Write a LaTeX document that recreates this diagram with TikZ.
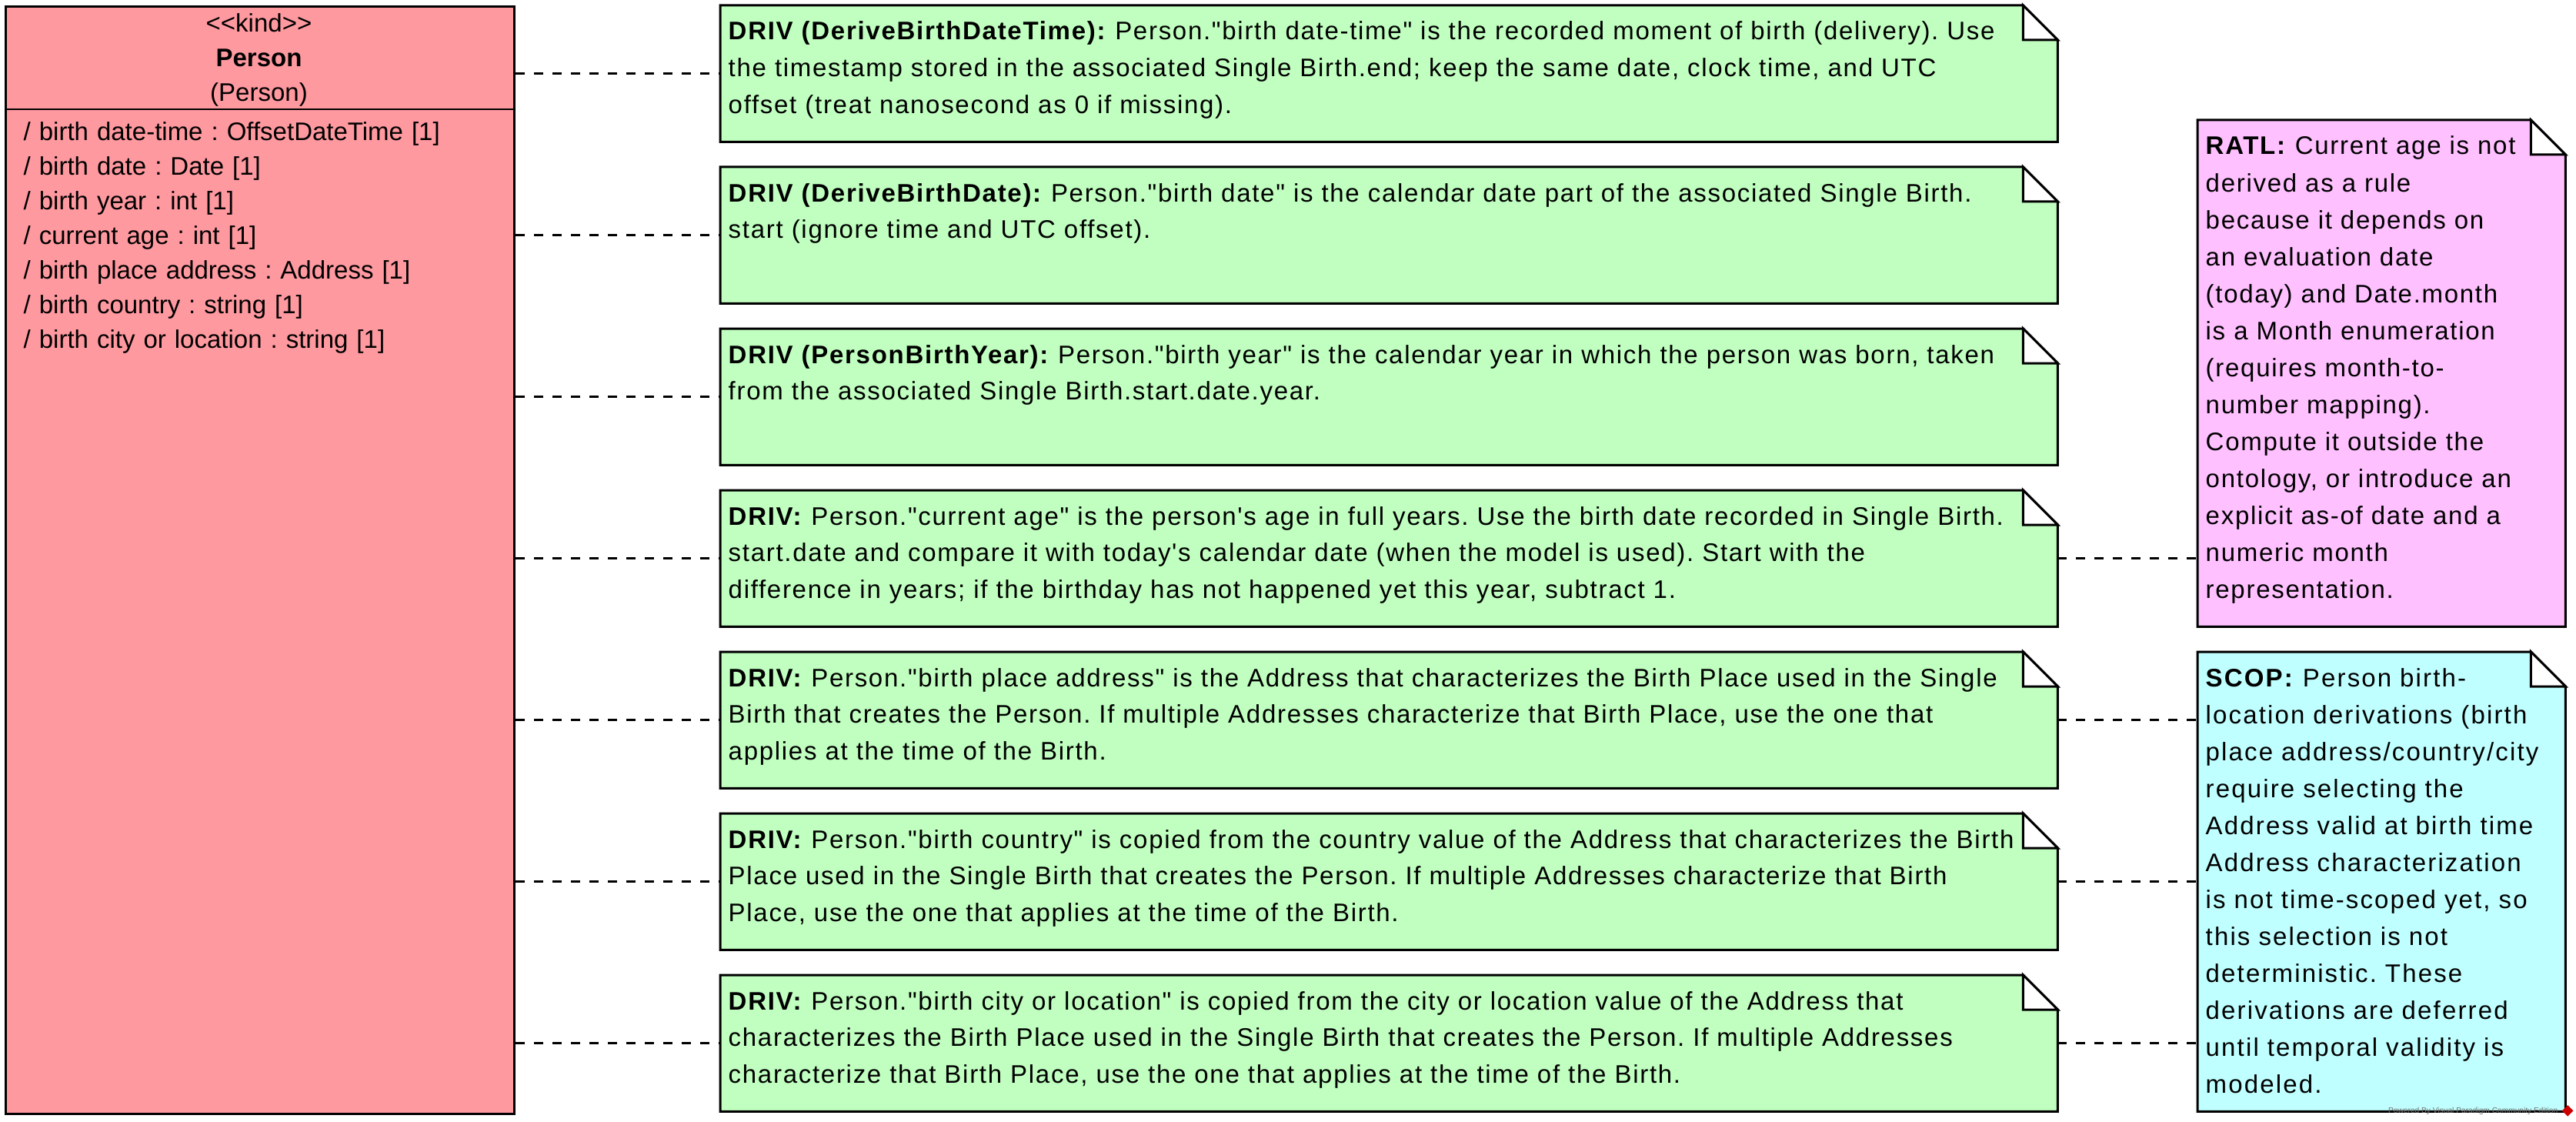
\documentclass[tikz,border=0pt]{standalone}
\usepackage{fontspec}
\newfontfamily\umlfont{Liberation Sans}
\newfontfamily\notefont{Liberation Sans}[LetterSpace=5.2]
\newfontfamily\scopfont{Liberation Sans}[LetterSpace=6.5]
\usetikzlibrary{positioning,calc,shapes.geometric}
\usepackage{xcolor}
\definecolor{kindred}{RGB}{255,153,160}
\definecolor{drivgreen}{RGB}{192,255,192}
\definecolor{ratlpink}{RGB}{255,192,255}
\definecolor{scopcyan}{RGB}{192,255,255}
\definecolor{markgray}{RGB}{110,110,110}
\frenchspacing

\tikzset{
  umlbox/.style={draw, line width=0.03cm, fill=kindred, anchor=north west, inner sep=0pt},
  notearea/.style={anchor=north west, inner sep=0pt, minimum width=17.37cm, minimum height=1.76cm},
  sidearea/.style={anchor=north west, inner sep=0pt, minimum width=4.77cm},
  notetext/.style={anchor=base west, inner sep=0pt, align=left, text width=17.2cm,
    font=\notefont\fontsize{9.39pt}{13.52pt}\selectfont},
  sidetext/.style={notetext, text width=4.6cm, font=\notefont\fontsize{9.39pt}{13.66pt}\selectfont},
  umltext/.style={inner sep=0pt, font=\umlfont\fontsize{9.39pt}{12.8pt}\selectfont},
  link/.style={dash pattern=on 0.12cm off 0.12cm, line width=0.025cm},
}

\newcommand{\foldnote}[2]{%
  \filldraw[fill=#2, line width=0.03cm]
    (#1.south west) -- (#1.north west) -- ([xshift=-0.45cm]#1.north east)
    -- ([yshift=-0.45cm]#1.north east) -- (#1.south east) -- cycle;
  \filldraw[fill=white, line width=0.03cm]
    ([xshift=-0.45cm]#1.north east) -- ([xshift=-0.45cm,yshift=-0.45cm]#1.north east)
    -- ([yshift=-0.45cm]#1.north east) -- cycle;
}

\begin{document}
\begin{tikzpicture}
    \useasboundingbox (0,0) rectangle (33.48,-14.58);

    \node[umlbox, minimum width=6.61cm, minimum height=14.39cm] (person) at (0.06,-0.07) {};
    \draw[line width=0.025cm] (person.west |- 0,-1.42) -- (person.east |- 0,-1.42);
    \node[umltext, anchor=base, align=center, text width=6.4cm] (ptitle) at (3.365,-0.42)
        {<{}<kind>{}>\\\textbf{Person}\\(Person)};
    \node[umltext, anchor=base west, align=left, text width=6.3cm] (pattrs) at (0.30,-1.83)
        {/ birth date-time : OffsetDateTime [1]\\
         / birth date : Date [1]\\
         / birth year : int [1]\\
         / current age : int [1]\\
         / birth place address : Address [1]\\
         / birth country : string [1]\\
         / birth city or location : string [1]};

    \node[notearea] (drivtime) at (9.36,-0.07) {};
    \node[notearea] (drivdate) at (9.36,-2.17) {};
    \node[notearea] (drivyear) at (9.36,-4.27) {};
    \node[notearea] (drivage) at (9.36,-6.37) {};
    \node[notearea] (drivplace) at (9.36,-8.47) {};
    \node[notearea] (drivcountry) at (9.36,-10.57) {};
    \node[notearea] (drivcity) at (9.36,-12.67) {};
    \node[sidearea, minimum height=6.57cm] (ratl) at (28.56,-1.56) {};
    \node[sidearea, minimum height=5.96cm] (scop) at (28.56,-8.47) {};

    \foldnote{drivtime}{drivgreen}
    \foldnote{drivdate}{drivgreen}
    \foldnote{drivyear}{drivgreen}
    \foldnote{drivage}{drivgreen}
    \foldnote{drivplace}{drivgreen}
    \foldnote{drivcountry}{drivgreen}
    \foldnote{drivcity}{drivgreen}
    \foldnote{ratl}{ratlpink}
    \foldnote{scop}{scopcyan}

    \node[notetext] (ttime) at ([xshift=0.10cm, yshift=-0.45cm]drivtime.north west)
        {\textbf{DRIV (DeriveBirthDateTime):} Person."birth date-time" is the recorded moment of birth (delivery). Use\\
         the timestamp stored in the associated Single Birth.end; keep the same date, clock time, and UTC\\
         offset (treat nanosecond as 0 if missing).};
    \node[notetext] (tdate) at ([xshift=0.10cm, yshift=-0.45cm]drivdate.north west)
        {\textbf{DRIV (DeriveBirthDate):} Person."birth date" is the calendar date part of the associated Single Birth.\\
         start (ignore time and UTC offset).};
    \node[notetext] (tyear) at ([xshift=0.10cm, yshift=-0.45cm]drivyear.north west)
        {\textbf{DRIV (PersonBirthYear):} Person."birth year" is the calendar year in which the person was born, taken\\
         from the associated Single Birth.start.date.year.};
    \node[notetext] (tage) at ([xshift=0.10cm, yshift=-0.45cm]drivage.north west)
        {\textbf{DRIV:} Person."current age" is the person's age in full years. Use the birth date recorded in Single Birth.\\
         start.date and compare it with today's calendar date (when the model is used). Start with the\\
         difference in years; if the birthday has not happened yet this year, subtract 1.};
    \node[notetext] (tplace) at ([xshift=0.10cm, yshift=-0.45cm]drivplace.north west)
        {\textbf{DRIV:} Person."birth place address" is the Address that characterizes the Birth Place used in the Single\\
         Birth that creates the Person. If multiple Addresses characterize that Birth Place, use the one that\\
         applies at the time of the Birth.};
    \node[notetext] (tcountry) at ([xshift=0.10cm, yshift=-0.45cm]drivcountry.north west)
        {\textbf{DRIV:} Person."birth country" is copied from the country value of the Address that characterizes the Birth\\
         Place used in the Single Birth that creates the Person. If multiple Addresses characterize that Birth\\
         Place, use the one that applies at the time of the Birth.};
    \node[notetext] (tcity) at ([xshift=0.10cm, yshift=-0.45cm]drivcity.north west)
        {\textbf{DRIV:} Person."birth city or location" is copied from the city or location value of the Address that\\
         characterizes the Birth Place used in the Single Birth that creates the Person. If multiple Addresses\\
         characterize that Birth Place, use the one that applies at the time of the Birth.};

    \node[sidetext] (tratl) at ([xshift=0.10cm, yshift=-0.45cm]ratl.north west)
        {\textbf{RATL:} Current age is not\\
         derived as a rule\\
         because it depends on\\
         an evaluation date\\
         (today) and Date.month\\
         is a Month enumeration\\
         (requires month-to-\\
         number mapping).\\
         Compute it outside the\\
         ontology, or introduce an\\
         explicit as-of date and a\\
         numeric month\\
         representation.};
    \node[sidetext, font=\scopfont\fontsize{9.39pt}{13.66pt}\selectfont] (tscop)
        at ([xshift=0.10cm, yshift=-0.45cm]scop.north west)
        {\textbf{SCOP:} Person birth-\\
         location derivations (birth\\
         place address/country/city\\
         require selecting the\\
         Address valid at birth time\\
         Address characterization\\
         is not time-scoped yet, so\\
         this selection is not\\
         deterministic. These\\
         derivations are deferred\\
         until temporal validity is\\
         modeled.};

    \draw[link] (person.east |- drivtime.west) -- (drivtime.west);
    \draw[link] (person.east |- drivdate.west) -- (drivdate.west);
    \draw[link] (person.east |- drivyear.west) -- (drivyear.west);
    \draw[link] (person.east |- drivage.west) -- (drivage.west);
    \draw[link] (person.east |- drivplace.west) -- (drivplace.west);
    \draw[link] (person.east |- drivcountry.west) -- (drivcountry.west);
    \draw[link] (person.east |- drivcity.west) -- (drivcity.west);
    \draw[link] (drivage.east) -- (ratl.west |- drivage.east);
    \draw[link] (drivplace.east) -- (scop.west |- drivplace.east);
    \draw[link] (drivcountry.east) -- (scop.west |- drivcountry.east);
    \draw[link] (drivcity.east) -- (scop.west |- drivcity.east);

    \node[anchor=base east, inner sep=0pt, text=markgray, font=\umlfont\fontsize{2.9pt}{3pt}\selectfont]
        (vpmark) at (33.25,-14.46) {Powered By Visual Paradigm Community Edition};
    \node[diamond, fill=red!80!black, inner sep=0pt, minimum size=0.15cm, right=0.04cm of vpmark] (vplogo) {};
\end{tikzpicture}
\end{document}
